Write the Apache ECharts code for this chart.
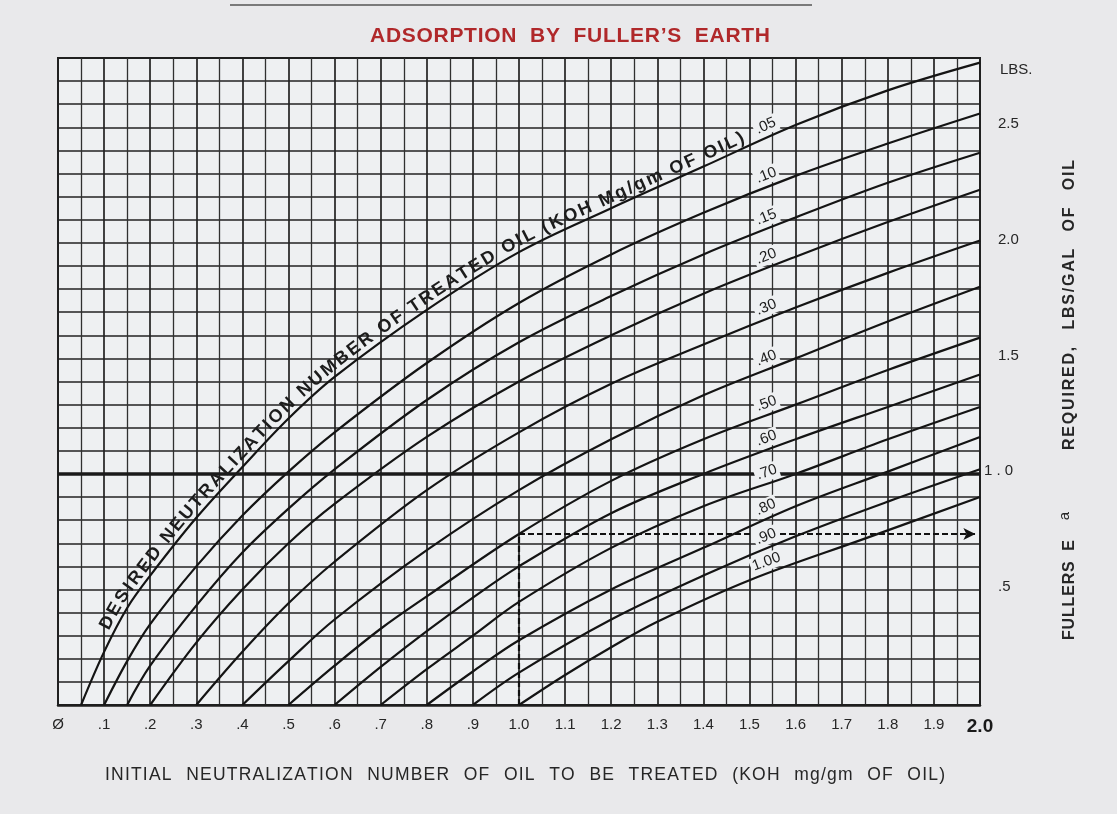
<!DOCTYPE html>
<html>
<head>
<meta charset="utf-8">
<script src="https://cdn.jsdelivr.net/npm/echarts@6/dist/echarts.min.js"></script>
<style>
  html, body { margin: 0; padding: 0; background: #e9e9eb; }
  #chart { width: 1117px; height: 814px; }
</style>
</head>
<body>
<div id="chart"></div>
<script>
// one curve per desired neutralization number: [initial number, lbs/gal]
const curve05 = [[0.05, 0], [0.1, 0.23], [0.15, 0.42], [0.2, 0.56], [0.3, 0.81], [0.4, 1.03], [0.5, 1.24], [0.6, 1.42], [0.8, 1.71], [1.0, 1.96], [1.2, 2.15], [1.4, 2.33], [1.6, 2.51], [1.8, 2.66], [2.0, 2.78]];
const curve10 = [[0.1, 0], [0.15, 0.19], [0.2, 0.35], [0.3, 0.6], [0.4, 0.82], [0.5, 1.01], [0.6, 1.18], [0.8, 1.48], [1.0, 1.74], [1.2, 1.95], [1.4, 2.13], [1.6, 2.29], [1.8, 2.43], [2.0, 2.56]];
const curve15 = [[0.15, 0], [0.2, 0.17], [0.3, 0.43], [0.4, 0.66], [0.5, 0.85], [0.6, 1.02], [0.8, 1.32], [1.0, 1.57], [1.2, 1.77], [1.4, 1.95], [1.6, 2.11], [1.8, 2.26], [2.0, 2.39]];
const curve20 = [[0.2, 0], [0.3, 0.27], [0.4, 0.5], [0.5, 0.7], [0.6, 0.87], [0.8, 1.16], [1.0, 1.4], [1.2, 1.6], [1.4, 1.78], [1.6, 1.94], [1.8, 2.09], [2.0, 2.23]];
const curve30 = [[0.3, 0], [0.4, 0.23], [0.5, 0.44], [0.6, 0.62], [0.8, 0.93], [1.0, 1.18], [1.2, 1.39], [1.4, 1.56], [1.6, 1.72], [1.8, 1.87], [2.0, 2.01]];
const curve40 = [[0.4, 0], [0.5, 0.19], [0.6, 0.37], [0.8, 0.67], [1.0, 0.93], [1.2, 1.15], [1.4, 1.34], [1.6, 1.5], [1.8, 1.66], [2.0, 1.81]];
const curve50 = [[0.5, 0], [0.6, 0.17], [0.7, 0.33], [0.8, 0.47], [1.0, 0.74], [1.2, 0.97], [1.4, 1.15], [1.6, 1.3], [1.8, 1.45], [2.0, 1.59]];
const curve60 = [[0.6, 0], [0.7, 0.165], [0.8, 0.32], [0.9, 0.465], [1.0, 0.6], [1.2, 0.83], [1.4, 1.0], [1.6, 1.15], [1.8, 1.29], [2.0, 1.43]];
const curve70 = [[0.7, 0], [0.8, 0.155], [0.9, 0.3], [1.0, 0.446], [1.2, 0.68], [1.4, 0.86], [1.6, 1.0], [1.8, 1.15], [2.0, 1.29]];
const curve80 = [[0.8, 0], [0.9, 0.145], [1.0, 0.28], [1.2, 0.5], [1.4, 0.68], [1.6, 0.86], [1.8, 1.01], [2.0, 1.16]];
const curve90 = [[0.9, 0], [1.0, 0.14], [1.2, 0.37], [1.4, 0.56], [1.6, 0.73], [1.8, 0.88], [2.0, 1.02]];
const curve100 = [[1.0, 0], [1.1, 0.13], [1.2, 0.25], [1.3, 0.36], [1.5, 0.54], [1.75, 0.72], [2.0, 0.9]];

const curves = [curve05, curve10, curve15, curve20, curve30, curve40, curve50, curve60, curve70, curve80, curve90, curve100];
const curveLabels = ['.05', '.10', '.15', '.20', '.30', '.40', '.50', '.60', '.70', '.80', '.90', '1.00'];

const xTickLabels = ['Ø', '.1', '.2', '.3', '.4', '.5', '.6', '.7', '.8', '.9', '1.0', '1.1', '1.2', '1.3', '1.4', '1.5', '1.6', '1.7', '1.8', '1.9', '2.0'];
const yTickValues = [0.5, 1.0, 1.5, 2.0, 2.5];
const yTickLabels = ['.5', '1 . 0', '1.5', '2.0', '2.5'];

// worked example drawn dashed on the chart
const exampleInitial = 1.0;
const exampleLbs = 0.74;

const chartTitle = 'ADSORPTION BY FULLER\u2019S EARTH';
const curveTitle = 'DESIRED NEUTRALIZATION NUMBER OF TREATED OIL (KOH Mg/gm OF OIL)';
const xTitle = 'INITIAL NEUTRALIZATION NUMBER OF OIL TO BE TREATED (KOH mg/gm OF OIL)';
const yTitle = 'REQUIRED, LBS/GAL OF OIL';

const FONT = 'Arial, "Liberation Sans", Helvetica, sans-serif';
const PLOT_BG = '#eef0f2';
const INK = '#262626';

const chart = echarts.init(document.getElementById('chart'));

const series = curves.map((c) => ({
  type: 'line',
  data: c,
  smooth: 0.35,
  symbol: 'none',
  silent: true,
  z: 4,
  lineStyle: { color: '#141414', width: 2.2 },
}));

// heavy line at 1.0 lbs and the dashed example
series.push({
  type: 'line',
  data: [],
  markLine: {
    silent: true,
    symbol: ['none', 'none'],
    label: { show: false },
    lineStyle: { color: '#1a1a1a', width: 3.5, type: 'solid' },
    data: [{ yAxis: 1.0 }],
  },
});
series.push({
  type: 'line',
  data: [],
  z: 5,
  markLine: {
    silent: true,
    symbol: ['none', 'none'],
    label: { show: false },
    lineStyle: { color: '#111', width: 2.2, type: [6, 3] },
    data: [
      [{ coord: [exampleInitial, 0] }, { coord: [exampleInitial, exampleLbs] }],
      [{ coord: [exampleInitial, exampleLbs] }, { coord: [1.99, exampleLbs], symbol: 'arrow', symbolSize: [9, 12] }],
    ],
  },
});

chart.setOption({
  animation: false,
  backgroundColor: '#e9e9eb',
  grid: {
    left: 58, right: 137, top: 58, bottom: 109,
    show: true, backgroundColor: PLOT_BG, borderColor: '#1e1e1e', borderWidth: 2,
  },
  xAxis: {
    type: 'value',
    min: 0, max: 2.0, interval: 0.1,
    axisLine: { show: true, lineStyle: { color: '#1e1e1e', width: 2.5 } },
    axisTick: { show: false },
    minorTick: { show: false, splitNumber: 2 },
    splitLine: { show: true, lineStyle: { color: '#222', width: 1.7 } },
    minorSplitLine: { show: true, lineStyle: { color: '#303030', width: 1.3 } },
    axisLabel: {
      margin: 12,
      color: INK,
      fontSize: 15,
      fontFamily: FONT,
      formatter: (v) => {
        const t = xTickLabels[Math.round(v * 10)];
        return t === '2.0' ? '{b|' + t + '}' : t;
      },
      rich: { b: { fontSize: 19, fontWeight: 'bold', color: '#1a1a1a', fontFamily: FONT } },
    },
  },
  yAxis: {
    type: 'value',
    position: 'right',
    min: 0, max: 2.8, interval: 0.1,
    axisLine: { show: false },
    axisTick: { show: false },
    splitLine: { show: true, lineStyle: { color: '#222', width: 1.5 } },
    axisLabel: {
      margin: 4,
      color: INK,
      fontSize: 15,
      fontFamily: FONT,
      padding: [0, 0, 6, 0],
      formatter: (v) => {
        const i = yTickValues.findIndex((t) => Math.abs(t - v) < 1e-6);
        if (i < 0) return '';
        return i === 1 ? yTickLabels[i] : '{s|}' + yTickLabels[i];
      },
      rich: { s: { width: 14 } },
    },
  },
  series,
});

// --- labels that follow the curves ---
function hermite(pts, x) {
  const n = pts.length;
  const d = [];
  for (let i = 0; i < n - 1; i++) d.push((pts[i + 1][1] - pts[i][1]) / (pts[i + 1][0] - pts[i][0]));
  const m = [d[0]];
  for (let i = 1; i < n - 1; i++) m.push(d[i - 1] * d[i] <= 0 ? 0 : (d[i - 1] + d[i]) / 2);
  m.push(d[n - 2]);
  let i = 0;
  while (i < n - 2 && x > pts[i + 1][0]) i++;
  const h = pts[i + 1][0] - pts[i][0];
  const t = (x - pts[i][0]) / h;
  const t2 = t * t, t3 = t2 * t;
  return (2 * t3 - 3 * t2 + 1) * pts[i][1] + (t3 - 2 * t2 + t) * h * m[i] +
    (-2 * t3 + 3 * t2) * pts[i + 1][1] + (t3 - t2) * h * m[i + 1];
}

function toPx(x, y) {
  return chart.convertToPixel({ gridIndex: 0 }, [x, y]);
}

// point, unit tangent and upward normal on a curve at a given initial number
function frameAt(pts, x) {
  const a = toPx(x - 0.006, hermite(pts, x - 0.006));
  const b = toPx(x + 0.006, hermite(pts, x + 0.006));
  const p = toPx(x, hermite(pts, x));
  const dx = b[0] - a[0], dy = b[1] - a[1];
  const len = Math.hypot(dx, dy);
  const tx = dx / len, ty = dy / len;
  return { p, nx: ty, ny: -tx, angle: Math.atan2(-dy, dx) };
}

const graphics = [];
const ctx = document.createElement('canvas').getContext('2d');

// lay characters out along a straight line; the free room goes partly to
// letter spacing and partly to word spacing
function spreadChars(text, font, fill, x0, y0, x1, y1, rotation, wordShare) {
  ctx.font = font;
  const chars = text.split('');
  const widths = chars.map((c) => ctx.measureText(c).width);
  const span = Math.hypot(x1 - x0, y1 - y0);
  const room = span - widths.reduce((a, b) => a + b, 0);
  const spaces = chars.filter((c) => c === ' ').length;
  const share = spaces ? (wordShare || 0) : 0;
  const letterGap = room * (1 - share) / (chars.length - 1);
  const wordGap = spaces ? room * share / spaces : 0;
  const ux = (x1 - x0) / span, uy = (y1 - y0) / span;
  let s = 0;
  chars.forEach((c, i) => {
    const w = widths[i] + (c === ' ' ? wordGap : 0);
    const mid = s + w / 2;
    s += w + letterGap;
    if (c === ' ') return;
    graphics.push({
      type: 'text', x: x0 + ux * mid, y: y0 + uy * mid, rotation,
      style: { text: c, fill, font, align: 'center', verticalAlign: 'middle' },
    });
  });
}

// long title written along the .05 curve
(function () {
  const pts = curve05;
  const step = 0.002;
  const poly = [];
  for (let x = pts[0][0]; x <= 2.0 + 1e-9; x += step) poly.push({ x, p: toPx(x, hermite(pts, x)) });
  let s = 0;
  poly[0].s = 0;
  for (let i = 1; i < poly.length; i++) {
    s += Math.hypot(poly[i].p[0] - poly[i - 1].p[0], poly[i].p[1] - poly[i - 1].p[1]);
    poly[i].s = s;
  }
  const xAtS = (target) => {
    let i = 1;
    while (i < poly.length - 1 && poly[i].s < target) i++;
    const f = (target - poly[i - 1].s) / (poly[i].s - poly[i - 1].s);
    return poly[i - 1].x + f * (poly[i].x - poly[i - 1].x);
  };
  const sAtX = (x) => poly[Math.min(poly.length - 1, Math.round((x - pts[0][0]) / step))].s;

  const chars = curveTitle.split('');
  const s0 = sAtX(0.12), s1 = sAtX(1.495);
  ctx.font = 'bold 14px ' + FONT;
  const w14 = chars.reduce((a, c) => a + ctx.measureText(c).width, 0);
  const fontSize = Math.max(13, Math.min(18, 14 * (s1 - s0 - (chars.length - 1) * 1.2) / w14));
  const font = 'bold ' + fontSize.toFixed(1) + 'px ' + FONT;
  ctx.font = font;
  const widths = chars.map((c) => ctx.measureText(c).width);
  const total = widths.reduce((a, b) => a + b, 0);
  const gap = (s1 - s0 - total) / (chars.length - 1);
  let pos = s0;
  chars.forEach((c, i) => {
    const mid = pos + widths[i] / 2;
    pos += widths[i] + gap;
    if (c === ' ') return;
    const f = frameAt(pts, xAtS(mid));
    graphics.push({
      type: 'text',
      x: f.p[0] + f.nx * 10,
      y: f.p[1] + f.ny * 10,
      rotation: f.angle,
      z: 10,
      style: { text: c, fill: '#1c1c1c', font, align: 'center', verticalAlign: 'middle' },
    });
  });
})();

// short value labels near x = 1.55
curves.forEach((pts, i) => {
  const f = frameAt(pts, 1.545);
  graphics.push({
    type: 'text',
    x: f.p[0] + f.nx * 11,
    y: f.p[1] + f.ny * 11,
    rotation: f.angle,
    z: 10,
    style: {
      text: curveLabels[i], fill: '#1c1c1c', font: '15px ' + FONT,
      align: 'center', verticalAlign: 'middle',
      backgroundColor: PLOT_BG, padding: [1, 2],
    },
  });
});

// framing texts
graphics.push(
  { type: 'line', shape: { x1: 230, y1: 5, x2: 812, y2: 5 }, style: { stroke: '#555', lineWidth: 1.5 } },
  { type: 'text', x: 1000, y: 70, style: { text: 'LBS.', fill: INK, font: '15px ' + FONT, verticalAlign: 'middle' } },
  {
    type: 'text', x: 1065, y: 516, rotation: Math.PI / 2,
    style: { text: 'a', fill: INK, font: '15px ' + FONT, align: 'center', verticalAlign: 'middle' },
  }
);
spreadChars(chartTitle, 'bold 21px ' + FONT, '#b0282a', 370, 36, 770, 36, 0, 0.5);
spreadChars(xTitle, '17.5px ' + FONT, INK, 105, 775, 945, 775, 0, 0.5);
spreadChars(yTitle, 'bold 16px ' + FONT, INK, 1070, 450, 1070, 160, Math.PI / 2, 0.4);
spreadChars('FULLERS E', 'bold 16px ' + FONT, INK, 1070, 640, 1070, 540, Math.PI / 2, 0.4);

chart.setOption({ graphic: graphics });
</script>
</body>
</html>
